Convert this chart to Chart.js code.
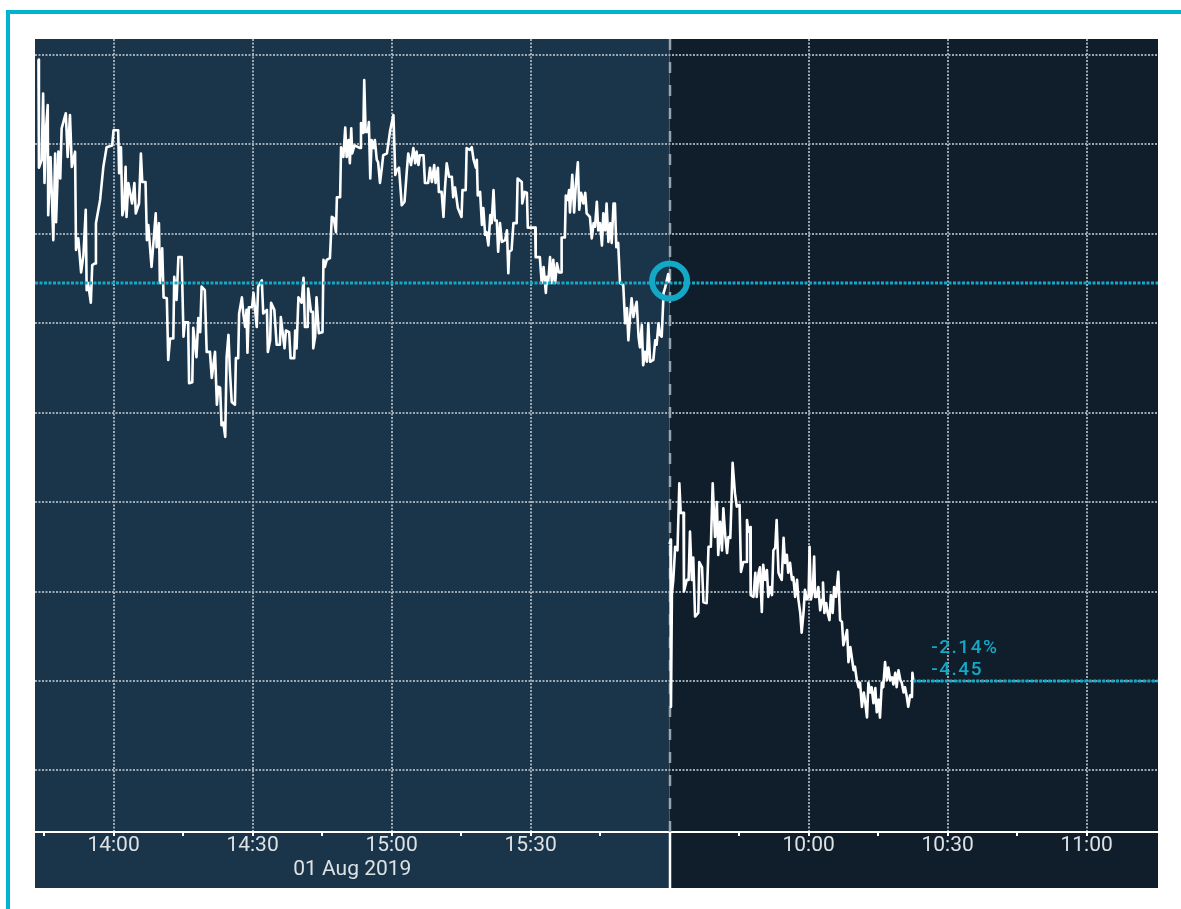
<!DOCTYPE html>
<html>
<head>
<meta charset="utf-8">
<script src="https://cdn.jsdelivr.net/npm/chart.js@4.4.0/dist/chart.umd.min.js"></script>
<style>
  html, body { margin: 0; padding: 0; background: #fff; width: 1181px; height: 909px; overflow: hidden; }
  #frame { position: absolute; left: 6px; top: 10px; width: 1200px; height: 920px; border-top: 4px solid #00b4d0; border-left: 4px solid #00b4d0; }
  #wrap { position: absolute; left: 35px; top: 39px; width: 1123px; height: 849px; }
</style>
</head>
<body>
<div id="frame"></div>
<div id="wrap"><canvas id="chart" width="1123" height="849"></canvas></div>
<script>
// 01 Aug 2019 session, minutes relative to the 16:00 close
const day1Min = [
  -136.2, -136.1, -135.5, -135.2, -134.9, -134.6, -134.2, -134.1, -133.6, -133.0,
  -132.6, -132.4, -131.9, -131.5, -131.2, -130.3, -129.9, -129.4, -129.0, -128.3,
  -128.1, -127.6, -127.0, -126.5, -126.0, -125.8, -125.5, -124.9, -124.6, -124.0,
  -123.8, -122.9, -122.2, -121.5, -120.3, -120.0, -119.0, -118.8, -118.4, -118.1,
  -117.7, -117.4, -117.2, -116.8, -116.0, -115.5, -115.2, -114.5, -114.1, -113.8,
  -113.1, -112.8, -112.5, -111.8, -110.9, -110.7, -110.2, -110.0, -109.5, -109.2,
  -108.5, -108.2, -107.8, -107.1, -106.9, -106.4, -106.0, -105.3, -104.9, -104.6,
  -103.9, -103.7, -103.0, -102.8, -102.1, -101.7, -101.3, -101.0, -100.3, -99.9,
  -99.2, -98.8, -98.1, -97.7, -97.4, -97.0, -96.7, -96.3, -95.9, -95.6,
  -95.2, -94.9, -94.5, -93.8, -93.6, -93.1, -92.9, -92.3, -92.0, -91.6,
  -91.3, -91.1, -90.8, -90.1, -89.8, -89.1, -88.8, -88.0, -87.7, -86.9,
  -86.7, -86.2, -86.0, -85.3, -84.8, -84.1, -83.9, -83.1, -82.8, -82.1,
  -81.8, -81.0, -80.8, -80.5, -80.1, -79.4, -79.0, -78.7, -78.1, -78.0,
  -77.4, -77.0, -76.9, -76.5, -76.2, -75.7, -74.9, -74.7, -74.4, -74.0,
  -73.3, -72.9, -72.5, -72.0, -71.8, -71.1, -70.9, -70.4, -70.0, -69.7,
  -69.3, -69.0, -68.7, -68.5, -68.0, -66.8, -66.6, -66.1, -65.9, -65.6,
  -65.1, -64.9, -64.6, -64.3, -63.9, -63.6, -63.2, -62.9, -62.5, -62.1,
  -61.8, -61.0, -60.3, -59.6, -59.2, -58.9, -58.4, -57.8, -57.2, -56.7,
  -56.4, -55.8, -55.3, -54.9, -54.6, -54.2, -53.9, -53.1, -52.8, -52.1,
  -51.7, -51.3, -50.8, -50.5, -50.0, -49.8, -49.2, -48.8, -48.5, -48.1,
  -47.6, -47.0, -46.7, -46.3, -45.7, -44.9, -44.7, -44.0, -43.8, -43.1,
  -42.7, -42.3, -41.8, -41.6, -41.4, -40.9, -40.5, -40.2, -39.8, -39.5,
  -39.1, -38.7, -38.4, -38.0, -37.7, -37.3, -37.0, -36.6, -36.2, -35.5,
  -35.1, -34.8, -34.6, -34.1, -33.7, -33.0, -32.8, -31.9, -31.8, -31.3,
  -30.8, -30.6, -29.0, -28.9, -28.0, -27.6, -27.2, -26.7, -26.5, -26.2,
  -25.8, -25.4, -25.1, -24.7, -24.3, -23.9, -23.4, -23.3, -22.6, -22.4,
  -22.0, -21.7, -21.5, -21.0, -20.6, -20.2, -19.8, -19.5, -19.1, -18.6,
  -18.2, -17.9, -17.2, -16.8, -16.4, -16.1, -15.7, -15.4, -15.0, -14.6,
  -14.3, -13.9, -13.6, -13.2, -12.8, -12.5, -12.1, -11.8, -11.5, -11.1,
  -10.7, -10.0, -9.6, -9.2, -8.9, -8.5, -8.2, -7.8, -7.4, -7.1,
  -6.7, -6.4, -6.0, -5.7, -5.3, -4.9, -4.6, -4.2, -3.5, -3.1,
  -2.8, -2.4, -2.1, -1.7, -1.3, -1.0, -0.3, 0
];
const day1Px = [
  210.45, 209.24, 209.33, 210.07, 209.07, 209.66, 209.94, 208.71, 209.36, 208.43,
  209.40, 208.63, 209.42, 209.12, 209.68, 209.85, 209.36, 209.83, 209.25, 209.42,
  208.32, 208.45, 208.07, 208.26, 208.77, 207.87, 207.95, 207.73, 208.15, 208.17,
  208.62, 208.88, 209.25, 209.47, 209.49, 209.66, 209.66, 209.18, 209.47, 208.71,
  208.80, 209.25, 208.69, 209.07, 208.84, 209.07, 208.73, 208.84, 209.40, 209.08,
  209.08, 208.43, 208.60, 208.13, 208.73, 208.35, 208.62, 207.95, 208.34, 207.79,
  207.78, 207.09, 207.33, 207.33, 208.02, 207.76, 208.24, 208.24, 207.35, 207.51,
  207.51, 206.83, 206.84, 207.45, 207.12, 207.56, 207.40, 207.91, 207.87, 207.18,
  207.18, 206.89, 207.18, 206.59, 206.79, 206.78, 206.36, 206.39, 206.23, 207.12,
  207.37, 206.98, 206.62, 206.59, 207.11, 207.11, 207.61, 207.79, 207.61, 207.46,
  207.65, 207.17, 207.68, 207.68, 207.84, 207.46, 207.91, 207.98, 207.61, 207.65,
  207.18, 207.31, 207.73, 207.65, 207.26, 207.26, 207.57, 207.22, 207.42, 207.40,
  207.11, 207.11, 207.42, 207.22, 207.79, 207.73, 208.01, 207.46, 207.46, 207.89,
  207.63, 207.63, 207.22, 207.35, 207.79, 207.39, 207.40, 208.21, 208.13, 208.21,
  208.23, 208.69, 208.68, 208.52, 208.91, 208.91, 209.47, 209.36, 209.69, 209.36,
  209.55, 209.29, 209.68, 209.40, 209.49, 209.46, 209.74, 209.63, 210.22, 209.64,
  209.64, 209.75, 209.12, 209.55, 209.46, 209.55, 209.33, 209.30, 209.07, 209.24,
  209.38, 209.40, 209.66, 209.83, 209.16, 209.21, 209.24, 208.82, 208.86, 209.21,
  209.40, 209.27, 209.46, 209.29, 209.42, 209.27, 209.38, 209.38, 209.07, 209.07,
  209.24, 209.08, 209.27, 209.07, 209.24, 208.97, 208.97, 208.69, 208.99, 209.29,
  209.14, 209.14, 208.91, 209.02, 208.79, 208.69, 208.99, 208.99, 209.46, 209.44,
  209.47, 209.33, 209.24, 209.33, 208.93, 208.97, 208.60, 208.79, 208.49, 208.52,
  208.37, 208.71, 208.62, 208.99, 208.65, 208.65, 208.30, 208.62, 208.41, 208.43,
  208.54, 208.06, 208.30, 208.32, 208.62, 208.62, 209.12, 209.08, 208.84, 208.97,
  208.96, 208.57, 208.57, 208.24, 208.24, 207.95, 208.13, 207.84, 208.02, 207.95,
  208.24, 207.95, 208.21, 207.95, 208.17, 208.07, 208.07, 208.46, 208.46, 208.93,
  208.88, 208.99, 208.74, 209.16, 208.74, 209.07, 209.30, 208.77, 208.96, 208.84,
  208.96, 208.73, 208.69, 208.45, 208.62, 208.58, 208.86, 208.54, 208.62, 208.37,
  208.73, 208.54, 208.84, 208.41, 208.62, 208.40, 208.84, 208.84, 208.35, 208.40,
  207.95, 207.93, 207.50, 207.67, 207.31, 207.59, 207.78, 207.57, 207.68, 207.74,
  207.35, 207.23, 207.48, 207.03, 207.18, 207.07, 207.50, 207.07, 207.09, 207.31,
  207.26, 207.50, 207.37, 207.35, 207.84, 207.89, 208.05, 207.95
];
// 02 Aug session, minutes after the 09:30 open
const day2Min = [
  0.0, 0.2, 0.3, 0.5, 0.8, 1.2, 1.7, 2.1, 2.4, 3.0,
  3.1, 3.7, 4.1, 4.4, 4.8, 5.1, 5.5, 6.2, 6.4, 7.0,
  7.3, 8.0, 8.4, 8.9, 9.3, 9.8, 10.2, 10.5, 10.9, 11.3,
  11.6, 12.0, 12.4, 12.7, 13.1, 13.4, 13.6, 14.1, 14.5, 15.1,
  15.4, 15.9, 16.5, 16.7, 17.0, 17.4, 17.5, 18.1, 18.5, 18.8,
  19.2, 19.5, 19.9, 20.2, 20.6, 21.0, 21.3, 21.7, 22.1, 22.4,
  22.8, 23.1, 23.5, 23.9, 24.2, 24.6, 24.9, 25.3, 25.6, 26.0,
  26.4, 26.7, 27.1, 27.5, 27.8, 28.2, 28.5, 28.9, 29.2, 29.6,
  30.0, 30.2, 30.5, 30.9, 31.2, 31.4, 31.8, 32.1, 32.5, 32.9,
  33.1, 33.4, 33.8, 34.1, 34.5, 34.8, 35.2, 35.5, 35.9, 36.4,
  36.8, 37.2, 37.5, 37.9, 38.3, 38.6, 39.0, 39.3, 39.7, 40.0,
  40.4, 40.8, 41.1, 41.5, 41.9, 42.2, 42.6, 42.9, 43.3, 43.6,
  44.0, 44.4, 44.7, 45.1, 45.4, 45.8, 46.1, 46.5, 46.9, 47.2,
  47.6, 48.0, 48.3, 48.7, 49.0, 49.4, 49.8, 50.1, 50.5, 50.8,
  51.2, 51.5, 51.9, 52.3, 52.4, 52.6
];
const day2Px = [
  205.03, 205.08, 203.21, 204.48, 204.63, 205.00, 204.96, 205.71, 205.38, 205.38,
  204.50, 204.63, 204.63, 205.17, 204.63, 204.88, 204.22, 204.26, 204.83, 204.77,
  204.38, 204.37, 205.00, 205.00, 205.71, 205.11, 205.50, 204.91, 205.28, 204.96,
  205.43, 205.13, 204.93, 205.11, 205.10, 205.58, 205.94, 205.60, 205.45, 205.47,
  204.72, 204.83, 204.83, 205.30, 205.17, 205.22, 204.46, 204.44, 204.71, 204.44,
  204.71, 204.77, 204.27, 204.80, 204.63, 204.74, 204.44, 204.55, 204.46, 204.96,
  204.99, 205.30, 204.71, 204.66, 204.63, 205.10, 204.82, 204.91, 204.71, 204.82,
  204.63, 204.66, 204.44, 204.63, 204.41, 204.26, 204.04, 204.26, 204.52, 204.41,
  204.44, 205.00, 204.41, 204.52, 204.89, 204.44, 204.44, 204.55, 204.29, 204.41,
  204.60, 204.26, 204.37, 204.26, 204.18, 204.46, 204.26, 204.55, 204.44, 204.72,
  204.18, 204.16, 203.90, 203.98, 204.07, 203.71, 203.88, 203.77, 203.62, 203.66,
  203.51, 203.43, 203.48, 203.21, 203.37, 203.27, 203.09, 203.48, 203.37, 203.43,
  203.25, 203.42, 203.15, 203.29, 203.09, 203.48, 203.43, 203.71, 203.51, 203.65,
  203.51, 203.54, 203.46, 203.59, 203.43, 203.62, 203.51, 203.48, 203.37, 203.43,
  203.32, 203.21, 203.34, 203.32, 203.59, 203.50
];
const prevClose = 207.95;
const dateLabel = '01 Aug 2019';

// x ticks: minutes from the session break (day 1 before 16:00, day 2 after 09:30)
const xTickMinutes = [-135, -120, -105, -90, -75, -60, -45, -30, -15, 0, 15, 30, 45, 60, 75, 90];
const xTickLabels = ['', '14:00', '', '14:30', '', '15:00', '', '15:30', '', '', '', '10:00', '', '10:30', '', '11:00'];
const yGrid = [202.5, 203.5, 204.5, 205.5, 206.5, 207.5, 208.5, 209.5, 210.5];

const xMin = -136.95, xMax = 105.4;
const yMin = 201.81, yMax = 210.68;

const teal = '#13a8c6';
const gridCol = 'rgba(170,183,193,0.9)';

const sessionPlugin = {
  id: 'sessions',
  beforeDraw(chart) {
    const ctx = chart.ctx;
    const bx = chart.scales.x.getPixelForValue(0);
    ctx.save();
    ctx.fillStyle = '#1a3449';
    ctx.fillRect(0, 0, bx, chart.height);
    ctx.fillStyle = '#0f1e2a';
    ctx.fillRect(bx, 0, chart.width - bx, chart.height);
    ctx.restore();
  },
  beforeDatasetsDraw(chart) {
    const ctx = chart.ctx, a = chart.chartArea;
    const bx = Math.round(chart.scales.x.getPixelForValue(0));
    ctx.save();
    ctx.strokeStyle = 'rgba(160,170,178,0.95)';
    ctx.lineWidth = 2.5;
    ctx.setLineDash([11, 12]);
    ctx.beginPath();
    ctx.moveTo(bx, a.top);
    ctx.lineTo(bx, a.bottom);
    ctx.stroke();
    ctx.setLineDash([]);
    ctx.strokeStyle = '#ffffff';
    ctx.lineWidth = 2.5;
    ctx.beginPath();
    ctx.moveTo(bx, a.bottom);
    ctx.lineTo(bx, chart.height);
    ctx.stroke();
    ctx.restore();
  },
  afterDatasetsDraw(chart) {
    const ctx = chart.ctx, a = chart.chartArea;
    const xs = chart.scales.x, ys = chart.scales.y;
    const bx = xs.getPixelForValue(0);
    const yPrev = ys.getPixelForValue(prevClose);
    const last = day2Px[day2Px.length - 1];
    const lx = xs.getPixelForValue(day2Min[day2Min.length - 1]);
    const ly = ys.getPixelForValue(last);
    ctx.save();
    ctx.strokeStyle = teal;
    ctx.lineWidth = 3;
    ctx.setLineDash([3, 1.5]);
    ctx.beginPath();
    ctx.moveTo(a.left, yPrev);
    ctx.lineTo(a.right, yPrev);
    ctx.moveTo(lx, ly);
    ctx.lineTo(a.right, ly);
    ctx.stroke();
    ctx.setLineDash([]);
    ctx.lineWidth = 6;
    ctx.beginPath();
    ctx.arc(bx, yPrev - 2, 17.5, 0, Math.PI * 2);
    ctx.stroke();
    const chg = last - prevClose;
    const pct = chg / prevClose * 100;
    ctx.fillStyle = teal;
    ctx.font = '500 19px Roboto';
    ctx.letterSpacing = '1.5px';
    ctx.textBaseline = 'alphabetic';
    ctx.fillText(pct.toFixed(2) + '%', lx + 18, ly - 28);
    ctx.fillText(chg.toFixed(2), lx + 18, ly - 6);
    ctx.restore();
  }
};

const toPoints = (xs, ys) => xs.map((m, i) => ({ x: m, y: ys[i] }));

new Chart(document.getElementById('chart'), {
  type: 'line',
  data: {
    datasets: [
      { data: toPoints(day1Min, day1Px), xAxisID: 'x', yAxisID: 'y', borderColor: '#ffffff', borderWidth: 2.6, pointRadius: 0, tension: 0, borderJoinStyle: 'round' },
      { data: toPoints(day2Min, day2Px), xAxisID: 'x', yAxisID: 'y', borderColor: '#ffffff', borderWidth: 2.6, pointRadius: 0, tension: 0, borderJoinStyle: 'round' }
    ]
  },
  options: {
    responsive: false,
    devicePixelRatio: 1,
    animation: false,
    layout: { padding: 0 },
    plugins: { legend: { display: false }, tooltip: { enabled: false } },
    scales: {
      x: {
        type: 'linear', position: 'bottom', min: xMin, max: xMax, weight: 0,
        afterBuildTicks: s => { s.ticks = xTickMinutes.map(v => ({ value: v })); },
        afterFit: s => { s.height = 24; },
        ticks: {
          autoSkip: false, maxRotation: 0, minRotation: 0, padding: 0,
          color: '#dde2e5', font: { family: 'Roboto', size: 21, lineHeight: 0.9 },
          callback: v => xTickLabels[xTickMinutes.indexOf(v)]
        },
        grid: {
          color: c => (c.tick && c.tick.value % 30 === 0 && c.tick.value !== 0) ? gridCol : 'rgba(0,0,0,0)',
          lineWidth: c => (c.tick && c.tick.value % 30 === 0 && c.tick.value !== 0) ? 2 : 0,
          drawTicks: true, tickLength: 4, tickWidth: 2, tickColor: '#ffffff'
        },
        border: { display: true, color: '#ffffff', width: 2, dash: [2, 1.5] }
      },
      xDate: {
        type: 'linear', position: 'bottom', min: xMin, max: xMax, weight: 1,
        afterBuildTicks: s => { s.ticks = [{ value: xMin / 2 }]; },
        afterFit: s => { s.height = 32; },
        ticks: {
          autoSkip: false, maxRotation: 0, minRotation: 0, padding: 3,
          color: '#dde2e5', font: { family: 'Roboto', size: 21, lineHeight: 1 },
          callback: () => dateLabel
        },
        grid: { display: false, drawTicks: false },
        border: { display: false }
      },
      y: {
        type: 'linear', min: yMin, max: yMax,
        afterBuildTicks: s => { s.ticks = yGrid.map(v => ({ value: v })); },
        afterFit: s => { s.width = 0; },
        ticks: { display: false },
        grid: { color: gridCol, lineWidth: 2, drawTicks: false },
        border: { display: false, dash: [2, 1.5] }
      }
    }
  },
  plugins: [sessionPlugin]
});
</script>
</body>
</html>
